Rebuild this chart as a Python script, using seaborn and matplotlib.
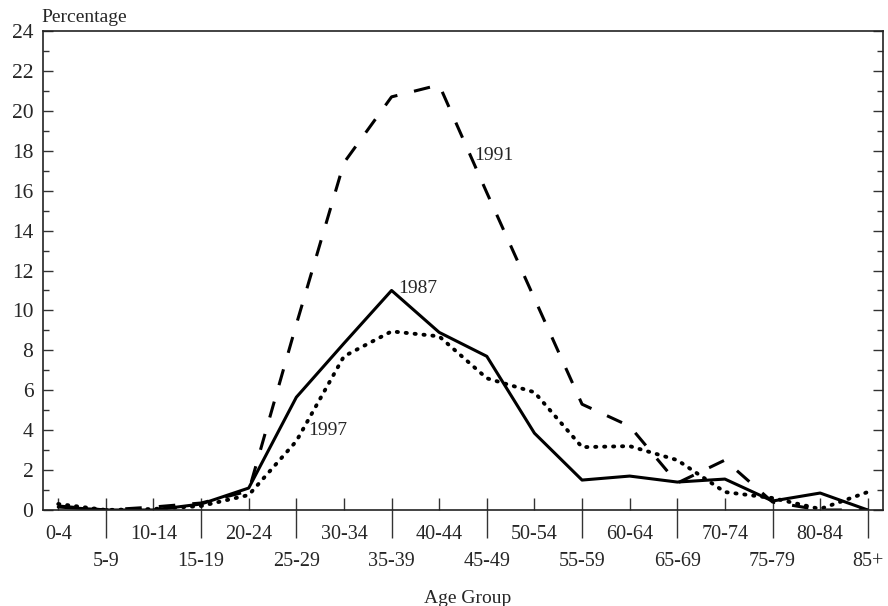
import numpy as np
import pandas as pd
import matplotlib
matplotlib.use("Agg")
import matplotlib.pyplot as plt
import seaborn as sns
from matplotlib.ticker import FixedLocator, FixedFormatter, MultipleLocator

# Age groups and share of cases (%) per survey year
age_groups = ["0-4", "5-9", "10-14", "15-19", "20-24", "25-29", "30-34", "35-39",
              "40-44", "45-49", "50-54", "55-59", "60-64", "65-69", "70-74",
              "75-79", "80-84", "85+"]
pct_1987 = [0.15, 0.0, 0.0, 0.3, 1.1, 5.65, 8.35, 11.0, 8.9, 7.7, 3.85, 1.5,
            1.7, 1.4, 1.55, 0.45, 0.85, 0.0]
pct_1991 = [0.2, 0.0, 0.15, 0.35, 0.95, 9.3, 17.4, 20.7, 21.3, 15.9, 10.6, 5.3,
            4.2, 1.35, 2.5, 0.4, 0.0, 0.0]
pct_1997 = [0.3, 0.0, 0.05, 0.2, 0.75, 3.45, 7.7, 8.95, 8.7, 6.6, 5.9, 3.15,
            3.2, 2.5, 0.9, 0.6, 0.05, 0.9]
years = ["1987", "1991", "1997"]

sns.set_style("ticks")
plt.rcParams["font.family"] = ["Liberation Serif", "DejaVu Serif"]
plt.rcParams["font.size"] = 14

pos = np.arange(len(age_groups))
df = pd.concat([
    pd.DataFrame({"pos": pos, "age": age_groups, "pct": vals, "year": yr})
    for yr, vals in zip(years, [pct_1987, pct_1991, pct_1997])
], ignore_index=True)

fig = plt.figure(figsize=(8.88, 6.06), dpi=100)
ax = fig.add_axes([43 / 888, 1 - 510 / 606, 840 / 888, 479 / 606])

sns.lineplot(data=df, x="pos", y="pct", hue="year", style="year",
             palette=["black"] * 3,
             dashes={"1987": "", "1991": (5.4, 5.6), "1997": (0.3, 2.0)},
             linewidth=2.2, legend=False, sort=False, ax=ax)
for line in ax.lines:
    line.set_dash_capstyle("butt")
dotted = ax.lines[2]
dotted.set_linewidth(2.8)
dotted.set_dashes((0.3, 2.0))
dotted.set_dash_capstyle("round")

ax.set_xlim(-0.32, 17.32)
ax.set_ylim(0, 24)

# y axis: labelled even values, minor odd ticks, mirrored on the right
ax.yaxis.set_major_locator(MultipleLocator(2))
ax.yaxis.set_minor_locator(MultipleLocator(1))
ax.tick_params(axis="y", which="major", direction="in", length=7.2, width=1,
               left=True, right=True, pad=7, labelsize=15.5, color="#333333")
ax.tick_params(axis="y", which="minor", direction="in", length=4, width=1,
               left=True, right=True, color="#333333")

# x axis: two staggered label rows
odd = pos[1::2]
ax.xaxis.remove_overlapping_locs = False
ax.xaxis.set_major_locator(FixedLocator(pos))
ax.xaxis.set_major_formatter(FixedFormatter(
    [lab if i % 2 == 0 else "" for i, lab in enumerate(age_groups)]))
ax.xaxis.set_minor_locator(FixedLocator(odd))
ax.xaxis.set_minor_formatter(FixedFormatter([age_groups[i] for i in odd]))
ax.tick_params(axis="x", which="major", direction="in", length=8.6, width=1,
               pad=10.5, labelsize=14.5, color="#333333")
ax.tick_params(axis="x", which="minor", direction="out", length=20, width=1,
               pad=10.5, labelsize=14.5, color="#333333")

for side in ["left", "right", "top", "bottom"]:
    ax.spines[side].set_visible(True)
    ax.spines[side].set_linewidth(1.2)
    ax.spines[side].set_color("#222222")

ax.set_ylabel("")
ax.set_xlabel("Age Group", fontsize=14)
ax.xaxis.set_label_coords((468 - 43) / 840, (510 - 603) / 479)
ax.xaxis.label.set_va("baseline")

fig.text(41 / 888, 1 - 22 / 606, "Percentage", fontsize=14,
         ha="left", va="baseline")

# Year labels next to their curves
ax.text(8.73, 17.55, "1991", fontsize=14, ha="left", va="baseline")
ax.text(7.13, 10.87, "1987", fontsize=14, ha="left", va="baseline")
ax.text(5.26, 3.76, "1997", fontsize=14, ha="left", va="baseline")

fig.savefig("out.png", dpi=100)
